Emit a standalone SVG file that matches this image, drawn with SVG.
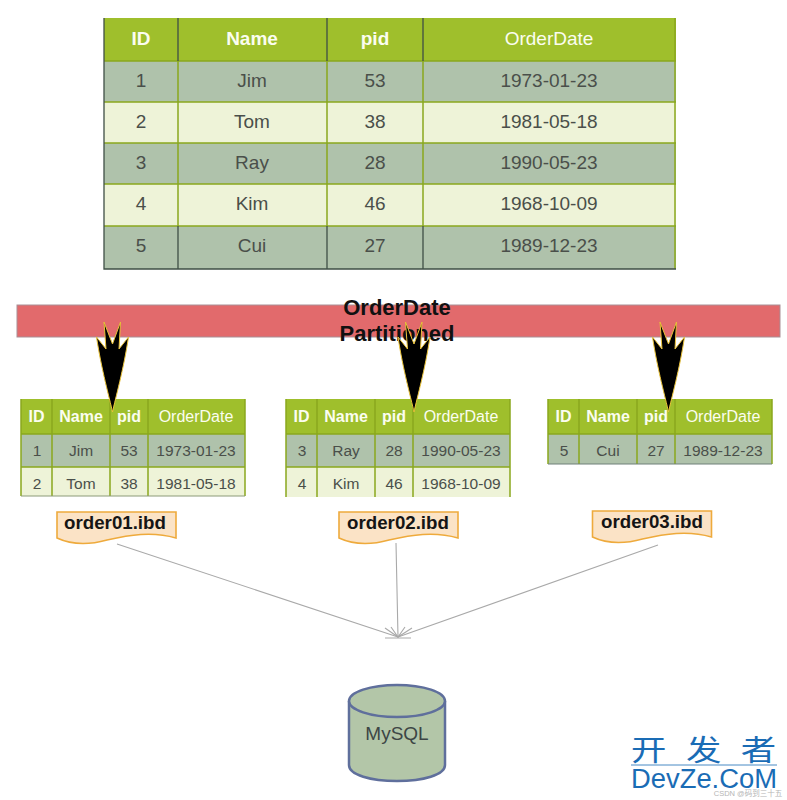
<svg xmlns="http://www.w3.org/2000/svg" xmlns:xlink="http://www.w3.org/1999/xlink" width="787" height="800" viewBox="0 0 787 800">
<style>
text{font-family:"Liberation Sans",Arial,sans-serif;text-anchor:middle}
.hd{fill:#9fbf2c}.odd{fill:#afc2ab}.even{fill:#eef3d8}
.sep{stroke:#8aa81e;stroke-width:1.5;fill:none}
.dk{stroke:#3f4f45;stroke-width:1.3;fill:none}
.ht{fill:#fbfdf0;font-weight:bold}
.ct{fill:#4a4f4a}
.big{font-size:19px}.bigc{font-size:19px}
.sm{font-size:16px}.smc{font-size:15.5px}
.doc{fill:#fbe3c6;stroke:#eeaa3c;stroke-width:1.6}
.dt{font-size:18.7px;font-weight:bold;fill:#151515}
.con{stroke:#a9a9a9;stroke-width:1.1;fill:none}
.spear{fill:#000;stroke:#e9c23a;stroke-width:1;stroke-linejoin:miter}
.wm{fill:#1a6cb5}
</style>
<defs>
<path id="spear" class="spear" d="M0,0C-3,-14 -11,-42 -16,-75L-6.500,-63L-8.500,-90L0,-68L8,-90L6.500,-63L16,-75C11,-42 3,-14 0,0Z"/>
<path id="docshape" class="doc" d="M0,0H119V26C95,19 72,23 50,28C32,33 15,33 0,26Z"/>
</defs>
<g id="table-main">
<rect class="hd" x="104" y="18" width="572" height="43"/>
<rect class="odd" x="104" y="61" width="572" height="41"/>
<rect class="even" x="104" y="102" width="572" height="41"/>
<rect class="odd" x="104" y="143" width="572" height="41"/>
<rect class="even" x="104" y="184" width="572" height="42"/>
<rect class="odd" x="104" y="226" width="572" height="43"/>
<path class="sep" d="M104,61H676M104,102H676M104,143H676M104,184H676M104,226H676M675,18V269M178,61V226M327,61V226M423,61V226"/>
<path class="dk" d="M104,18V269H676M178,18V61M327,18V61M423,18V61M178,226V269M327,226V269M423,226V269"/>
<g class="ht big"><text x="141" y="45">ID</text><text x="252" y="45">Name</text><text x="375" y="45">pid</text><text x="549" y="45" font-weight="normal">OrderDate</text></g>
<g class="ct bigc">
<text x="141" y="87">1</text><text x="252" y="87">Jim</text><text x="375" y="87">53</text><text x="549" y="87">1973-01-23</text>
<text x="141" y="128">2</text><text x="252" y="128">Tom</text><text x="375" y="128">38</text><text x="549" y="128">1981-05-18</text>
<text x="141" y="169">3</text><text x="252" y="169">Ray</text><text x="375" y="169">28</text><text x="549" y="169">1990-05-23</text>
<text x="141" y="210">4</text><text x="252" y="210">Kim</text><text x="375" y="210">46</text><text x="549" y="210">1968-10-09</text>
<text x="141" y="252">5</text><text x="252" y="252">Cui</text><text x="375" y="252">27</text><text x="549" y="252">1989-12-23</text>
</g>
</g>
<g id="partition-bar">
<rect x="17" y="305" width="763" height="32" fill="#e26a6c" stroke="#a98f96" stroke-width="1"/>
<text x="397" y="315" font-size="22" font-weight="bold" fill="#111">OrderDate</text>
<text x="397" y="341" font-size="22" font-weight="bold" fill="#111">Partitioned</text>
</g>
<g id="table-p1">
<rect class="hd" x="21" y="399" width="224" height="35"/>
<rect class="odd" x="21" y="434" width="224" height="33"/>
<rect class="even" x="21" y="467" width="224" height="29"/>
<path class="sep" d="M21,434H245M21,467H245M52,399V496M110,399V496M148,399V496M21,399V496M245,399V496"/>
<path d="M21,496H245" stroke="#8c9a78" stroke-width="1"/>
<g class="ht sm"><text x="36.500" y="422">ID</text><text x="81" y="422">Name</text><text x="129" y="422">pid</text><text x="196" y="422" font-weight="normal">OrderDate</text></g>
<g class="ct smc"><text x="37" y="456">1</text><text x="81" y="456">Jim</text><text x="129" y="456">53</text><text x="196" y="456">1973-01-23</text>
<text x="37" y="489">2</text><text x="81" y="489">Tom</text><text x="129" y="489">38</text><text x="196" y="489">1981-05-18</text></g>
</g>
<g id="table-p2">
<rect class="hd" x="286" y="399" width="224" height="35"/>
<rect class="odd" x="286" y="434" width="224" height="33"/>
<rect class="even" x="286" y="467" width="224" height="30"/>
<path class="sep" d="M286,434H510M286,467H510M317,399V497M375,399V497M413,399V497M286,399V497M510,399V497"/>
<g class="ht sm"><text x="301.500" y="422">ID</text><text x="346" y="422">Name</text><text x="394" y="422">pid</text><text x="461" y="422" font-weight="normal">OrderDate</text></g>
<g class="ct smc"><text x="302" y="456">3</text><text x="346" y="456">Ray</text><text x="394" y="456">28</text><text x="461" y="456">1990-05-23</text>
<text x="302" y="489">4</text><text x="346" y="489">Kim</text><text x="394" y="489">46</text><text x="461" y="489">1968-10-09</text></g>
</g>
<g id="table-p3">
<rect class="hd" x="548" y="399" width="224" height="35"/>
<rect class="odd" x="548" y="434" width="224" height="30"/>
<path class="sep" d="M548,434H772M579,399V464M637,399V464M675,399V464M548,399V464M772,399V464"/>
<path d="M548,464H772" stroke="#6f8078" stroke-width="1"/>
<g class="ht sm"><text x="563.500" y="422">ID</text><text x="608" y="422">Name</text><text x="656" y="422">pid</text><text x="723" y="422" font-weight="normal">OrderDate</text></g>
<g class="ct smc"><text x="564" y="456">5</text><text x="608" y="456">Cui</text><text x="656" y="456">27</text><text x="723" y="456">1989-12-23</text></g>
</g>
<g id="connectors">
<use xlink:href="#spear" href="#spear" x="112.500" y="412"/>
<use xlink:href="#spear" href="#spear" x="414" y="412"/>
<use xlink:href="#spear" href="#spear" x="668.500" y="412"/>
<path class="con" d="M117,544L398,637M396,543L398,637M658,545L398,637"/>
<path class="con" d="M385,628L398,637L412,628M391,627L398,637L405,627M385,638H411"/>
</g>
<g id="file-order01"><use xlink:href="#docshape" href="#docshape" x="57" y="512"/><text class="dt" x="115" y="529">order01.ibd</text></g>
<g id="file-order02"><use xlink:href="#docshape" href="#docshape" x="339" y="512"/><text class="dt" x="398" y="529">order02.ibd</text></g>
<g id="file-order03"><use xlink:href="#docshape" href="#docshape" x="592.500" y="511"/><text class="dt" x="652" y="528">order03.ibd</text></g>
<g id="mysql">
<path d="M349,701V765C349,775 371,781 397,781C423,781 445,775 445,765V701" fill="#b3c6a8" stroke="#5f6f9c" stroke-width="2.500"/>
<ellipse cx="397" cy="701" rx="48" ry="16" fill="#b3c6a8" stroke="#5f6f9c" stroke-width="2.500"/>
<text x="397" y="740" font-size="19" fill="#3d4645">MySQL</text>
</g>
<g id="watermark">
<text class="wm" transform="translate(631,761) scale(1.22,1)" x="0 45 90" y="0" font-size="29" style="text-anchor:start;font-family:'Noto Sans CJK SC','Liberation Sans',sans-serif">开发者</text>
<path d="M631,765H777" stroke="#1a6cb5" stroke-width="0.800"/>
<text class="wm" x="704" y="788" font-size="27" textLength="146" lengthAdjust="spacingAndGlyphs">DevZe.CoM</text>
<text x="748" y="796" font-size="7.500" fill="#b5b5b5" style="font-family:'Liberation Sans','Noto Sans CJK SC',sans-serif">CSDN @码到三十五</text>
</g>
</svg>
